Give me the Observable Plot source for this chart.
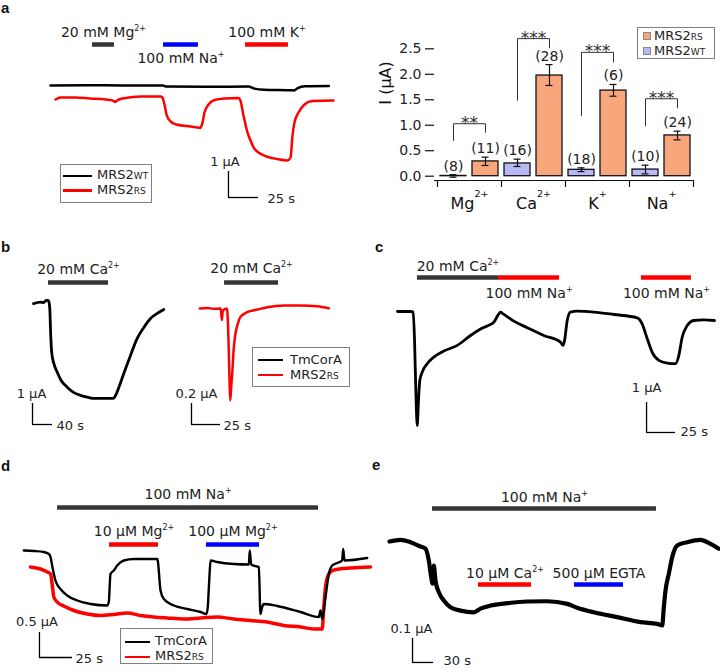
<!DOCTYPE html>
<html>
<head>
<meta charset="utf-8">
<script src="https://cdn.jsdelivr.net/npm/d3@7"></script>
<script src="https://cdn.jsdelivr.net/npm/@observablehq/plot@0.6"></script>
<style>
  html, body { margin: 0; padding: 0; background: #fff; }
  #fig { position: relative; width: 720px; height: 672px; overflow: hidden; background: #fff; font-family: "DejaVu Sans", sans-serif; color: #222; }
  #fig > svg { position: absolute; left: 0; top: 0; }
  .plabel { position: absolute; font-family: "Liberation Sans", Arial, sans-serif; font-weight: bold; font-size: 15px; line-height: 15px; height: 15px; color: #111; }
  .legend { position: absolute; box-sizing: border-box; border: 1px solid #808080; background: #fff; }
  .legend .sw { position: absolute; }
  .legend .lt { position: absolute; font-size: 13px; line-height: 0; white-space: nowrap; color: #222; }
  .legend .sub { font-size: 9px; }
</style>
</head>
<body>
<div id="fig"></div>
<script>
// ================= DATA =================
// Panel a — traces [time (s), current (µA)], traces offset for display
const aWT = [[0,0],[30,0.01],[60,0],[94,0],[96,-0.04],[130,-0.05],[165,-0.04],[170,-0.12],[178,-0.16],[200,-0.18],[203,-0.19],[206,-0.1],[212,-0.03],[232,-0.02]];
const aRS = [[4.2,-0.54],[8.3,-0.46],[21,-0.46],[33,-0.5],[46,-0.54],[52,-0.58],[54,-0.63],[56,-0.56],[62.5,-0.48],[75,-0.42],[92,-0.42],[93.3,-0.46],[95,-0.73],[96.7,-1.12],[100,-1.38],[105,-1.5],[116.7,-1.58],[125,-1.63],[126.7,-1.42],[128.3,-1.04],[131.7,-0.73],[136.7,-0.56],[145,-0.5],[156.7,-0.48],[158.3,-0.58],[160.8,-1.15],[164.2,-1.81],[166.7,-2.12],[169.2,-2.38],[173.3,-2.58],[180,-2.73],[189,-2.83],[197.5,-2.88],[200,-2.77],[201.7,-1.92],[203.3,-1.42],[206.7,-1.04],[211.7,-0.73],[218.3,-0.6],[235.8,-0.58]];
const aProtocol = [
  {label: "20 mM Mg{^2+}", start: 35, end: 53.3, color: "#363636", side: "above"},
  {label: "100 mM Na{^+}", start: 94.2, end: 123.3, color: "#0000ff", side: "below"},
  {label: "100 mM K{^+}", start: 162.5, end: 198.3, color: "#ff0000", side: "above"}
];

// Panel a — bar chart
const ions = ["Mg", "Ca", "K", "Na"];
const ionLabels = ["Mg{^2+}", "Ca{^2+}", "K{^+}", "Na{^+}"];
const wtMean = [0.005, 0.25, 0.125, 0.13];
const wtLo   = [-0.02, 0.19, 0.09, 0.046];
const wtHi   = [0.03, 0.334, 0.164, 0.216];
const wtN    = [8, 16, 18, 10];
const rsMean = [0.29, 1.975, 1.68, 0.80];
const rsLo   = [0.21, 1.78, 1.57, 0.713];
const rsHi   = [0.373, 2.19, 1.80, 0.883];
const rsN    = [11, 28, 6, 24];
const yTicks = [0, 0.5, 1.0, 1.5, 2.0, 2.5];
const bracketTop   = [1.03, 2.70, 2.43, 1.52];
const bracketLeft  = [0.70, 1.49, 1.19, 0.99];
const bracketRight = [0.86, 2.52, 2.24, 1.34];
const stars = ["**", "***", "***", "***"];

// Panel b — TmCorA (left) and MRS2RS (right)
const bTm = [[0,-0.05],[14,0.02],[20,0],[26,0.1],[29,0.1],[30.6,0.05],[32.6,-0.3],[34.5,-1.6],[36.5,-2.4],[40.6,-2.9],[47,-3.3],[55,-3.7],[67.4,-4.03],[80,-4.28],[94,-4.42],[110,-4.52],[120.6,-4.57],[160,-4.57],[164,-4.43],[170.6,-4.05],[180.6,-3.38],[194,-2.52],[207.4,-1.71],[220.6,-1.19],[234,-0.76],[247.4,-0.52],[260.6,-0.33]];
const bRS = [[0.3,0],[6.6,0.005],[12.3,-0.003],[18.3,0],[19.2,-0.11],[20.1,-0.02],[23.3,0],[23.9,-0.02],[25,-0.3],[25.9,-0.69],[26.5,-0.876],[27.3,-0.75],[28.2,-0.62],[29.6,-0.37],[31,-0.24],[33,-0.145],[35.3,-0.08],[41.1,-0.035],[50,-0.01],[58.4,0.012],[72.7,0.029],[87.1,0.029],[101.5,0.022],[111.5,0.003]];
const bProtocolL = [{label: "20 mM Ca{^2+}", start: 30, end: 150, color: "#363636", side: "above"}];
const bProtocolR = [{label: "20 mM Ca{^2+}", start: 21.6, end: 68.1, color: "#363636", side: "above"}];

// Panel c — TmCorA
const cTm = [[0,0],[11.2,0],[13.5,-0.02],[14.7,-0.97],[15.8,-2.63],[17,-3.8],[18.1,-2.97],[19.2,-2.3],[21.3,-2.02],[25.6,-1.74],[31.3,-1.52],[39.9,-1.32],[51.5,-1.13],[62.9,-0.8],[71.6,-0.58],[80.2,-0.43],[83,-0.36],[86.5,-0.13],[88.8,-0.02],[91.1,-0.08],[100.3,-0.32],[111.8,-0.54],[126.1,-0.8],[140.5,-1.02],[142.5,-1.13],[144,-0.97],[146.3,-0.3],[149.1,-0.02],[154.9,0.01],[169.2,-0.02],[186.5,-0.1],[206.6,-0.21],[210.9,-0.41],[215.3,-0.91],[219.6,-1.36],[225.3,-1.63],[232.5,-1.72],[239.7,-1.74],[242.5,-1.47],[245.4,-0.86],[249.7,-0.47],[255.4,-0.3],[264,-0.28],[273.3,-0.3]];
const cProtocol = [
  {label: "20 mM Ca{^2+}", start: 17.2, end: 87.1, color: "#363636", side: "above"},
  {label: "100 mM Na{^+}", start: 87.1, end: 139.7, color: "#ff0000", side: "below"},
  {label: "100 mM Na{^+}", start: 210.3, end: 253.4, color: "#ff0000", side: "below"}
];

// Panel d — TmCorA and MRS2RS
const dTm = [[0.2,0],[7.8,-0.01],[15.4,-0.03],[19.2,-0.07],[20.5,-0.13],[21.7,-0.3],[24.2,-0.6],[28,-0.77],[33.1,-0.9],[40.7,-1.0],[50.8,-1.07],[63.4,-1.1],[64.6,-1.03],[65.9,-0.47],[68.4,-0.4],[71,-0.3],[76,-0.2],[83.6,-0.17],[101.3,-0.17],[101.7,-0.2],[103.8,-0.8],[106.3,-0.97],[113.9,-1.1],[124,-1.17],[134.1,-1.23],[138.6,-1.27],[139.6,-1.13],[140.7,-0.6],[141.7,-0.2],[146.7,-0.23],[159.3,-0.27],[170.7,-0.28],[171.4,0],[172.5,-0.28],[177,-0.32],[178.3,-0.33],[179.5,-1.27],[180.8,-1.13],[182,-1.07],[192.2,-1.11],[209.8,-1.23],[223.7,-1.33],[225,-1.2],[226.3,-1.37],[228.8,-0.93],[231.3,-0.47],[233.9,-0.3],[237.7,-0.25],[241.4,-0.2],[242.2,0.03],[243.2,-0.2],[260.4,-0.15]];
const dRS = [[5.3,-0.33],[12.9,-0.37],[18,-0.43],[20.5,-0.47],[21.7,-0.67],[23,-0.93],[25.5,-1.03],[30.5,-1.11],[38.1,-1.2],[48.3,-1.27],[58.3,-1.3],[68.4,-1.28],[78.6,-1.25],[88.6,-1.3],[98.7,-1.33],[108.9,-1.35],[121.4,-1.37],[134.1,-1.35],[146.7,-1.33],[159.3,-1.37],[172,-1.4],[184.6,-1.43],[197.2,-1.5],[209.8,-1.53],[219.9,-1.57],[226.3,-1.57],[227.5,-1.13],[228.8,-0.73],[231.3,-0.47],[235.1,-0.39],[247.7,-0.35],[262.9,-0.33]];
const dProtocol = [
  {label: "100 mM Na{^+}", start: 25.8, end: 223.5, color: "#363636", row: 0, side: "above"},
  {label: "10 µM Mg{^2+}", start: 65.2, end: 102.3, color: "#ff0000", row: 1, side: "above"},
  {label: "100 µM Mg{^2+}", start: 138.6, end: 178.8, color: "#0000ff", row: 1, side: "above"}
];

// Panel e — TmCorA
const eTm = [[0,0],[15.7,0.007],[30,-0.003],[44.3,-0.021],[51.4,-0.03],[56.1,-0.079],[59.6,-0.149],[61.4,-0.176],[63.3,-0.1],[65.7,-0.163],[70.4,-0.211],[77.6,-0.246],[87.1,-0.274],[101.4,-0.288],[120.4,-0.295],[130,-0.28],[144.3,-0.267],[168.1,-0.257],[196.7,-0.25],[225.3,-0.249],[253.9,-0.26],[268.1,-0.276],[291.9,-0.295],[325.3,-0.315],[358.6,-0.336],[382.4,-0.343],[389.6,-0.35],[391.9,-0.274],[394.3,-0.204],[399,-0.135],[403.9,-0.065],[411,-0.017],[425.3,-0.003],[444.3,0.007],[458.6,-0.01],[470.4,-0.03]];
const eProtocol = [
  {label: "100 mM Na{^+}", start: 61.4, end: 381.4, color: "#363636", row: 0, side: "above"},
  {label: "10 µM Ca{^2+}", start: 127.1, end: 202.9, color: "#ff0000", row: 1, side: "above"},
  {label: "500 µM EGTA", start: 264.3, end: 334.3, color: "#0000ff", row: 1, side: "above"}
];

// ================= HELPERS =================
const FONT = "DejaVu Sans";
const RED = "#ff0000", BLACK = "#000000";
const ORANGE = "#F8A67C", LAVENDER = "#B9B9F6";
const fig = document.getElementById("fig");
const SVGNS = "http://www.w3.org/2000/svg";

function richText(svg, {supSize = 8, supDy = -6, subSize = 9, subDy = 1} = {}) {
  svg.querySelectorAll("text, tspan").forEach(el => {
    if (el.children.length) return;
    const s = el.textContent;
    if (!/\{[\^_]/.test(s)) return;
    el.textContent = "";
    const re = /\{([\^_])([^}]*)\}/g;
    let last = 0, m, shift = 0;
    const add = (txt, dy, size) => {
      const t = document.createElementNS(SVGNS, "tspan");
      t.textContent = txt;
      if (dy) t.setAttribute("dy", dy);
      if (size) t.setAttribute("font-size", size);
      el.appendChild(t);
    };
    while ((m = re.exec(s))) {
      if (m.index > last) { add(s.slice(last, m.index), -shift); shift = 0; }
      const sup = m[1] === "^";
      const dy = sup ? supDy : subDy;
      add(m[2], dy - shift, sup ? supSize : subSize);
      shift = dy;
      last = re.lastIndex;
    }
    if (last < s.length) add(s.slice(last), -shift);
  });
}

function place(svg, opts) { richText(svg, opts); fig.appendChild(svg); }

const baseStyle = {fontFamily: FONT, fontSize: "14px", background: "none", color: "#222", overflow: "visible"};

// x: pixel = x0 + t * sx ; y: pixel = y0 - I * sy
function tracePlot(x0, sx, y0, sy, marks) {
  return Plot.plot({
    width: 720, height: 672, margin: 0,
    x: {type: "linear", domain: [0, 100], range: [x0, x0 + 100 * sx], axis: null},
    y: {type: "linear", domain: [0, 1], range: [y0, y0 - sy], axis: null},
    color: {type: "identity"},
    style: baseStyle,
    marks
  });
}

function trace(data, stroke, strokeWidth) {
  return Plot.line(data, {x: d => d[0], y: d => d[1], stroke, strokeWidth, curve: "monotone-x", strokeLinejoin: "round", strokeLinecap: "round"});
}

function protocolMarks(list, levels, dyAbove, dyBelow = 20) {
  const lvl = d => levels[d.row || 0];
  const mid = d => (d.start + d.end) / 2;
  return [
    Plot.ruleY(list, {y: lvl, x1: "start", x2: "end", stroke: d => d.color, strokeWidth: 4.5}),
    Plot.text(list.filter(d => d.side === "above"), {x: mid, y: lvl, text: "label", dy: dyAbove, lineAnchor: "bottom", fontSize: 14, fill: "#222"}),
    Plot.text(list.filter(d => d.side === "below"), {x: mid, y: lvl, text: "label", dy: dyBelow, lineAnchor: "bottom", fontSize: 14, fill: "#222"})
  ];
}

function scaleBar(sb) {
  const d = [sb];
  return [
    Plot.ruleX(d, {x: "t", y1: "i", y2: d => d.i + d.di, stroke: BLACK, strokeWidth: 1.3}),
    Plot.ruleY(d, {y: "i", x1: "t", x2: d => d.t + d.dt, stroke: BLACK, strokeWidth: 1.3}),
    Plot.text(d, {x: "t", y: d => d.i + d.di, text: d => `${d.di} µA`, dx: sb.dxI, dy: sb.dyI, lineAnchor: "bottom", textAnchor: "middle", fontSize: 13, fill: "#222"}),
    Plot.text(d, {x: d => d.t + d.dt, y: "i", text: d => `${d.dt} s`, dx: sb.dxT, dy: sb.dyT, lineAnchor: "bottom", textAnchor: "start", fontSize: 13, fill: "#222"})
  ];
}

// ================= PANEL a — traces =================
place(tracePlot(50, 1.2, 85, 26, [
  ...protocolMarks(aProtocol, [1.577], -7, 19),
  trace(aWT, BLACK, 2.5),
  trace(aRS, RED, 2.5),
  ...scaleBar({t: 148.3, i: -4.308, dt: 25, di: 1, dxI: -3.5, dyI: -6, dxT: 9, dyT: 5})
]));

// ================= PANEL a — bar chart =================
const barRows = ions.flatMap((ion, k) => [
  {key: ion + "-WT", ion, series: "WT", value: wtMean[k], lo: wtLo[k], hi: wtHi[k], n: wtN[k]},
  {key: ion + "-RS", ion, series: "RS", value: rsMean[k], lo: rsLo[k], hi: rsHi[k], n: rsN[k]}
]);
const keys = barRows.map(d => d.key);
const bracketPts = ions.flatMap((ion, k) => [
  {ion, key: ion + "-WT", v: bracketLeft[k]},
  {ion, key: ion + "-WT", v: bracketTop[k]},
  {ion, key: ion + "-RS", v: bracketTop[k]},
  {ion, key: ion + "-RS", v: bracketRight[k]}
]);
const AXIS_Y = -0.084;
place(Plot.plot({
  width: 720, height: 672,
  marginLeft: 434, marginRight: 27, marginTop: 48.3, marginBottom: 492,
  x: {type: "band", domain: keys, range: [437, 693], paddingInner: 0.1875, paddingOuter: 0.09375, axis: null},
  y: {type: "linear", domain: [0, 2.5], range: [175.7, 48.3]},
  color: {type: "identity"},
  style: {...baseStyle, fontSize: "14px"},
  marks: [
    Plot.axisY({ticks: yTicks, tickFormat: d3.format(".1f"), tickSize: 9, tickPadding: 4, line: true, label: null, stroke: "#111", strokeWidth: 1.2}),
    Plot.ruleY([AXIS_Y], {y: d => d, stroke: "#111", strokeWidth: 1.2}),
    Plot.ruleX(ions, {x: d => d + "-WT", y1: () => AXIS_Y, y2: () => -0.22, dx: -16, stroke: "#111", strokeWidth: 1.2}),
    Plot.ruleX(["Na-RS"], {x: d => d, y1: () => AXIS_Y, y2: () => -0.22, dx: 16, stroke: "#111", strokeWidth: 1.2}),
    Plot.barY(barRows, {x: "key", y: "value", fill: d => d.series === "RS" ? ORANGE : LAVENDER, stroke: "#111", strokeWidth: 1.3}),
    Plot.ruleX(barRows, {x: "key", y1: "lo", y2: "hi", stroke: "#111", strokeWidth: 1.2}),
    Plot.tickY(barRows, {x: "key", y: "hi", insetLeft: 9.5, insetRight: 9.5, stroke: "#111", strokeWidth: 1.2}),
    Plot.tickY(barRows, {x: "key", y: "lo", insetLeft: 9.5, insetRight: 9.5, stroke: "#111", strokeWidth: 1.2}),
    Plot.text(barRows, {x: "key", y: "hi", text: d => `(${d.n})`, dy: -4, lineAnchor: "bottom", fontSize: 14, fill: "#222"}),
    Plot.line(bracketPts, {x: "key", y: "v", z: "ion", stroke: "#333", strokeWidth: 1}),
    Plot.text(ions, {x: d => d + "-WT", y: (d, i) => bracketTop[i], text: (d, i) => stars[i], dx: 16, dy: 5, lineAnchor: "bottom", fontSize: 17, fill: "#333"}),
    Plot.text(ions, {x: d => d + "-WT", y: () => AXIS_Y, text: (d, i) => ionLabels[i], dx: 16, dy: 28.3, lineAnchor: "bottom", fontSize: 16, fill: "#111"}),
    Plot.text(["I (µA)"], {text: d => d, frameAnchor: "left", rotate: -90, dx: -49, dy: -10, fontSize: 16, fill: "#111"})
  ]
}), {supSize: 9.5, supDy: -12});

// ================= PANEL b =================
place(tracePlot(33, 0.5, 302, 21, [
  ...protocolMarks(bProtocolL, [0.952], -9),
  trace(bTm, BLACK, 2.8),
  ...scaleBar({t: -2, i: -5.81, dt: 40, di: 1, dxI: -1, dyI: -6, dxT: 4, dyT: 5})
]));
place(tracePlot(199, 1.16, 308, 105, [
  ...protocolMarks(bProtocolR, [0.248], -9),
  trace(bRS, RED, 2.5),
  ...scaleBar({t: -6.9, i: -1.105, dt: 25, di: 0.2, dxI: 5, dyI: -6, dxT: 3, dyT: 5})
]));

// ================= PANEL c =================
place(tracePlot(397, 1.16, 311, 30, [
  ...protocolMarks(cProtocol, [1.133], -7, 20),
  trace(cTm, BLACK, 2.8),
  ...scaleBar({t: 214.7, i: -4.033, dt: 25, di: 1, dxI: 0, dyI: -10, dxT: 5, dyT: 4})
]));

// ================= PANEL d =================
place(tracePlot(23, 1.32, 550, 50, [
  ...protocolMarks(dProtocol, [0.86, 0.12], -8.5),
  trace(dRS, RED, 3.5),
  trace(dTm, BLACK, 2.4),
  ...scaleBar({t: 12.1, i: -2.14, dt: 25, di: 0.5, dxI: -2.5, dyI: -7, dxT: 3, dyT: 5})
]));

// ================= PANEL e =================
place(tracePlot(389, 0.7, 541, 240, [
  ...protocolMarks(eProtocol, [0.1375, -0.179], -6.5),
  trace(eTm, BLACK, 4.2),
  ...scaleBar({t: 32.9, i: -0.504, dt: 30, di: 0.1, dxI: -1, dyI: -5, dxT: 10, dyT: 3})
]));

// ================= PANEL LETTERS =================
// top = baseline - ~12 (15px Liberation Sans Bold in a 15px line box)
[["a", 1, 12], ["b", 1, 251], ["c", 375, 251], ["d", 1, 470], ["e", 372, 469]].forEach(([t, x, base]) => {
  const el = document.createElement("div");
  el.className = "plabel";
  el.textContent = t;
  el.style.left = x + "px";
  el.style.top = (base - 12) + "px";
  fig.appendChild(el);
});

// ================= LEGENDS =================
function legend(box, rows) {
  const div = document.createElement("div");
  div.className = "legend";
  Object.assign(div.style, {left: box.x + "px", top: box.y + "px", width: box.w + "px", height: box.h + "px"});
  rows.forEach(r => {
    const sw = document.createElement("div");
    sw.className = "sw";
    if (r.kind === "square") {
      Object.assign(sw.style, {left: (box.swX - box.x - 1) + "px", top: (r.y - box.y - 1 - 4) + "px", width: "8px", height: "8px", background: r.color, boxSizing: "border-box", border: "1px solid #8a8a8a"});
    } else {
      Object.assign(sw.style, {left: (box.swX - box.x - 1) + "px", top: (r.y - box.y - 1 - 1.4) + "px", width: box.swW + "px", height: "2.8px", background: r.color});
    }
    div.appendChild(sw);
    const t = document.createElement("div");
    t.className = "lt";
    t.innerHTML = r.html;
    t.style.left = (box.textX - box.x - 1) + "px";
    t.style.top = (r.base - box.y - 1 - 4.5) + "px";
    div.appendChild(t);
  });
  fig.appendChild(div);
}
const MRS2RS = 'MRS2<span class="sub">RS</span>';
const MRS2WT = 'MRS2<span class="sub">WT</span>';
legend({x: 60, y: 164, w: 92, h: 39, swX: 63, swW: 29, textX: 97}, [
  {color: BLACK, y: 176, base: 179.3, html: MRS2WT},
  {color: RED, y: 190.7, base: 194.3, html: MRS2RS}
]);
legend({x: 637, y: 27, w: 78, h: 32, swX: 643, textX: 654}, [
  {kind: "square", color: ORANGE, y: 36, base: 40, html: MRS2RS},
  {kind: "square", color: LAVENDER, y: 51, base: 55, html: MRS2WT}
]);
legend({x: 252, y: 347, w: 98, h: 40, swX: 258, swW: 25, textX: 290}, [
  {color: BLACK, y: 360, base: 364, html: "TmCorA"},
  {color: RED, y: 375, base: 379, html: MRS2RS}
]);
legend({x: 120, y: 628, w: 93, h: 36, swX: 125, swW: 25, textX: 155}, [
  {color: BLACK, y: 642, base: 645.5, html: "TmCorA"},
  {color: RED, y: 657, base: 660.7, html: MRS2RS}
]);
</script>
</body>
</html>
